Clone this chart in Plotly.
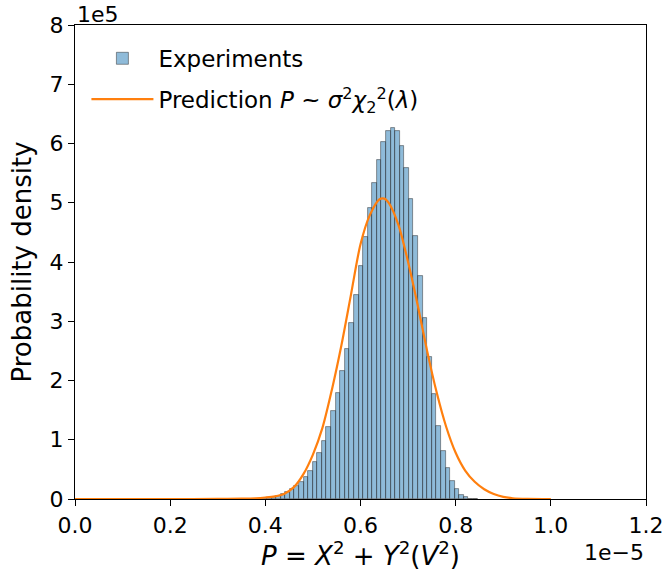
import plotly.graph_objects as go

# Histogram (x in units of 1e-5, density in units of 1e5)
bin_start = 0.3746
bin_width = 0.00962
densities = [0.004, 0.008, 0.015, 0.025, 0.04, 0.058,
             0.084, 0.124, 0.163, 0.219, 0.293, 0.377, 0.478, 0.619, 0.782, 0.979,
             1.21, 1.485, 1.795, 2.16, 2.54, 2.97, 3.44, 3.94, 4.42, 4.91,
             5.34, 5.72, 6.03, 6.21, 6.27, 6.21, 5.96, 5.58, 5.07, 4.44,
             3.77, 3.06, 2.39, 1.77, 1.24, 0.816, 0.518, 0.309, 0.169, 0.073,
             0.028, 0.006, 0.002]

# Prediction curve (x in 1e-5, y in 1e5)
pred_x = [0.0, 0.10, 0.20, 0.30, 0.35, 0.38, 0.40, 0.42, 0.44, 0.46, 0.48, 0.50,
          0.52, 0.54, 0.56, 0.58, 0.60, 0.62, 0.64, 0.65, 0.66, 0.68, 0.70, 0.72,
          0.74, 0.76, 0.78, 0.80, 0.82, 0.84, 0.86, 0.88, 0.90, 0.92, 0.95, 1.00]
pred_y = [0.0, 0.0, 0.0, 0.001, 0.005, 0.012, 0.025, 0.045, 0.09, 0.2, 0.42, 0.75,
          1.2, 1.85, 2.6, 3.45, 4.3, 4.8, 5.06, 5.07, 4.99, 4.62, 4.0, 3.28,
          2.5, 1.8, 1.22, 0.78, 0.48, 0.29, 0.165, 0.085, 0.037, 0.013, 0.003, 0.0]

x_ticks = [0.0, 0.2, 0.4, 0.6, 0.8, 1.0, 1.2]
y_ticks = [0, 1, 2, 3, 4, 5, 6, 7, 8]

centers = [bin_start + bin_width * (i + 0.5) for i in range(len(densities))]

FONT = "DejaVu Sans"

fig = go.Figure()
fig.add_trace(go.Bar(
    x=centers, y=densities, width=bin_width,
    marker=dict(color="rgba(31,119,180,0.5)",
                line=dict(color="rgba(40,40,40,0.6)", width=0.8)),
    name="Experiments", legendgroup="a",
))
fig.add_trace(go.Scatter(
    x=pred_x, y=pred_y, mode="lines", line_shape="spline",
    line=dict(color="#ff7f0e", width=2.2, smoothing=0.8),
    name="Prediction <i>P</i> ~ <i>σ</i><sup>2</sup><i>χ</i><sub>2</sub><sup>2</sup>(<i>λ</i>)",
    legendgroup="b",
))

axis_common = dict(
    showline=True, linecolor="black", linewidth=1.2, mirror=True,
    ticks="outside", ticklen=6, tickwidth=1.2, tickcolor="black",
    showgrid=False, zeroline=False, automargin=False,
    tickfont=dict(family=FONT, size=22, color="black"),
)

fig.update_layout(
    width=667, height=574,
    margin=dict(l=75, r=21, t=25, b=75),
    paper_bgcolor="white", plot_bgcolor="white",
    bargap=0,
    font=dict(family=FONT, color="black"),
    xaxis=dict(range=[0, 1.2], tickvals=x_ticks,
               ticktext=[f"{v:.1f}" for v in x_ticks],
               title=dict(text="<i>P</i> = <i>X</i><sup>2</sup> + <i>Y</i><sup>2</sup>(<i>V</i><sup>2</sup>)",
                          font=dict(family=FONT, size=26), standoff=0),
               **axis_common),
    yaxis=dict(range=[0, 8], tickvals=y_ticks,
               title=dict(text="Probability density",
                          font=dict(family=FONT, size=26), standoff=10),
               **axis_common),
    legend=dict(x=0.02, y=0.975, xanchor="left", yanchor="top",
                bgcolor="rgba(0,0,0,0)", font=dict(family=FONT, size=23),
                tracegroupgap=8, itemwidth=62),
    showlegend=True,
    annotations=[
        dict(text="1e5", x=0, y=1, xref="paper", yref="paper",
             xanchor="left", yanchor="bottom", showarrow=False,
             font=dict(family=FONT, size=22), yshift=-4),
        dict(text="1e\u22125", x=1, y=0, xref="paper", yref="paper",
             xanchor="right", yanchor="middle", showarrow=False,
             font=dict(family=FONT, size=22), yshift=-53),
    ],
)

fig.write_html("out.html")
